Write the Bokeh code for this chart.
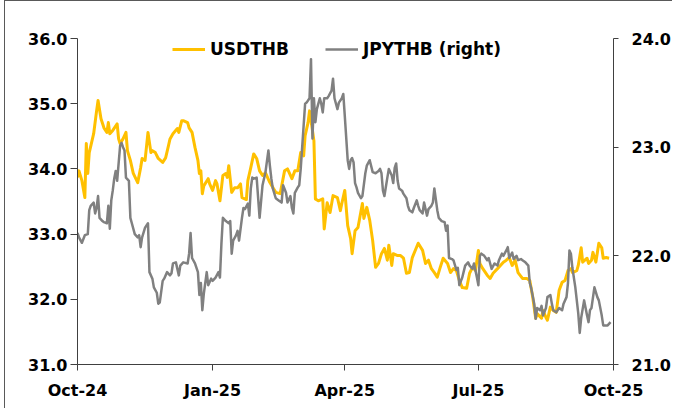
import pandas as pd
from bokeh.plotting import figure
from bokeh.models import (Range1d, LinearAxis, FixedTicker, NumeralTickFormatter,
                          DatetimeTickFormatter, Legend, LegendItem, ColumnDataSource)
from bokeh.embed import file_html
from bokeh.resources import INLINE

start_date = "2024-10-01"
end_date = "2025-10-01"
x_tick_dates = ["2024-10-01", "2025-01-01", "2025-04-01", "2025-07-01", "2025-10-01"]
left_ticks = [31.0, 32.0, 33.0, 34.0, 35.0, 36.0]
right_ticks = [21.0, 22.0, 23.0, 24.0]

# USDTHB (left axis): days since start_date, value
usd_day = [0, 1, 3, 5, 6, 7, 8, 11, 13, 14,
           16, 18, 20, 21, 22, 24, 27, 28, 29, 31,
           33, 34, 36, 38, 41, 43, 44, 46, 48, 50,
           51, 53, 55, 58, 60, 62, 63, 65, 68, 69,
           71, 72, 75, 76, 78, 80, 82, 83, 84, 85,
           86, 89, 90, 92, 94, 95, 97, 99, 101, 102,
           103, 105, 107, 109, 111, 112, 115, 116, 118, 120,
           122, 124, 126, 128, 131, 135, 138, 141, 143, 146,
           148, 150, 152, 154, 155, 157, 158, 160, 161, 162,
           164, 167, 168, 170, 172, 174, 177, 179, 180, 182,
           184, 186, 187, 189, 191, 194, 195, 197, 199, 201,
           203, 205, 207, 209, 211, 212, 214, 215, 218, 220,
           222, 224, 226, 228, 232, 235, 237, 239, 241, 243,
           245, 247, 249, 252, 254, 256, 258, 260, 262, 265,
           267, 269, 271, 273, 274, 276, 279, 281, 283, 286,
           288, 290, 292, 294, 296, 298, 300, 303, 306, 308,
           310, 312, 313, 316, 317, 319, 320, 322, 324, 326,
           328, 330, 332, 334, 336, 337, 340, 341, 343, 344,
           347, 348, 350, 351, 353, 355, 357, 358, 360, 362]
usd_val = [33.87, 33.97, 33.82, 33.56, 34.39, 33.93, 34.25, 34.54, 34.89, 35.05,
           34.77, 34.63, 34.56, 34.71, 34.54, 34.59, 34.69, 34.46, 34.39, 34.46,
           34.56, 34.28, 34.13, 33.93, 33.79, 34.02, 34.16, 34.13, 34.56, 34.25,
           34.28, 34.25, 34.16, 34.10, 34.17, 34.36, 34.46, 34.54, 34.62, 34.56,
           34.74, 34.74, 34.71, 34.63, 34.56, 34.33, 34.13, 33.93, 33.97, 33.62,
           33.74, 33.85, 33.77, 33.67, 33.82, 33.77, 33.51, 33.90, 33.93, 33.87,
           34.05, 33.64, 33.71, 33.71, 33.77, 33.56, 33.53, 33.82, 34.02, 34.23,
           34.16, 33.97, 33.90, 33.94, 33.79, 33.64, 33.62, 33.97, 34.00, 33.85,
           33.97, 33.97, 34.25, 34.20, 34.51, 34.71, 34.89, 34.59, 34.43, 33.54,
           33.51, 33.54, 33.08, 33.48, 33.33, 33.59, 33.56, 33.36, 33.47, 33.67,
           33.13, 32.93, 32.70, 33.05, 33.10, 33.47, 33.24, 33.41, 33.21, 32.90,
           32.49, 32.55, 32.70, 32.78, 32.60, 32.83, 32.52, 32.70, 32.67, 32.67,
           32.63, 32.40, 32.41, 32.64, 32.86, 32.75, 32.55, 32.60, 32.47, 32.41,
           32.34, 32.49, 32.63, 32.55, 32.41, 32.47, 32.44, 32.29, 32.18, 32.17,
           32.40, 32.49, 32.44, 32.75, 32.55, 32.47, 32.37, 32.32, 32.40, 32.47,
           32.52, 32.57, 32.60, 32.64, 32.52, 32.60, 32.41, 32.32, 32.32, 32.29,
           32.03, 31.71, 31.78, 31.71, 31.83, 31.72, 31.68, 31.88, 31.83, 31.80,
           32.14, 32.26, 32.29, 32.44, 32.47, 32.41, 32.44, 32.52, 32.79, 32.57,
           32.63, 32.55, 32.60, 32.72, 32.57, 32.86, 32.79, 32.63, 32.64, 32.63]

# JPYTHB (right axis): days since start_date, value
jpy_day = [0, 1, 3, 5, 7, 8, 9, 11, 12, 13,
           14, 15, 17, 18, 20, 21, 22, 23, 24, 25,
           26, 27, 28, 29, 30, 31, 32, 33, 35, 36,
           37, 39, 41, 42, 43, 44, 46, 48, 49, 51,
           52, 54, 55, 56, 58, 59, 61, 63, 64, 65,
           67, 69, 70, 72, 75, 76, 77, 78, 80, 82,
           83, 84, 85, 86, 88, 89, 91, 92, 94, 96,
           97, 98, 99, 101, 103, 104, 105, 106, 108, 109,
           110, 112, 113, 114, 116, 117, 118, 119, 120, 122,
           124, 126, 127, 128, 130, 131, 132, 133, 135, 137,
           139, 140, 142, 143, 145, 146, 147, 148, 150, 151,
           152, 154, 155, 156, 158, 159, 160, 161, 162, 163,
           165, 166, 167, 168, 170, 171, 173, 174, 175, 177,
           178, 180, 181, 182, 184, 185, 186, 187, 188, 189,
           190, 191, 193, 194, 196, 197, 199, 201, 203, 205,
           206, 207, 208, 209, 211, 212, 213, 214, 215, 216,
           217, 218, 219, 221, 222, 224, 225, 226, 228, 229,
           231, 232, 233, 235, 236, 237, 238, 239, 241, 242,
           243, 245, 246, 248, 250, 251, 252, 253, 255, 256,
           258, 259, 260, 262, 264, 266, 267, 269, 270, 272,
           273, 274, 275, 277, 279, 280, 282, 284, 286, 287,
           289, 290, 292, 293, 294, 296, 297, 299, 300, 302,
           303, 305, 307, 308, 309, 311, 312, 313, 315, 316,
           317, 319, 320, 322, 323, 324, 326, 328, 330, 331,
           333, 334, 335, 336, 337, 339, 341, 342, 343, 345,
           347, 348, 349, 350, 352, 354, 355, 357, 358, 360,
           361, 363]
jpy_val = [22.21, 22.17, 22.12, 22.19, 22.20, 22.42, 22.46, 22.49, 22.39, 22.44,
           22.55, 22.35, 22.32, 22.31, 22.30, 22.46, 22.25, 22.51, 22.60, 22.71,
           22.78, 22.69, 22.85, 23.01, 23.04, 23.00, 22.97, 22.72, 22.69, 22.35,
           22.30, 22.20, 22.17, 22.19, 22.08, 22.17, 22.26, 22.30, 21.85, 21.79,
           21.71, 21.66, 21.56, 21.57, 21.77, 21.79, 21.85, 21.82, 21.84, 21.93,
           21.94, 21.82, 21.91, 21.94, 21.93, 22.02, 22.21, 21.98, 21.93, 21.85,
           21.64, 21.75, 21.50, 21.65, 21.85, 21.73, 21.79, 21.77, 21.80, 21.85,
           21.80, 22.11, 22.35, 22.32, 22.30, 22.32, 22.02, 22.14, 22.19, 22.23,
           22.14, 22.35, 22.44, 22.43, 22.48, 22.37, 22.62, 22.72, 22.71, 22.72,
           22.35, 22.65, 22.71, 22.77, 22.97, 22.83, 22.71, 22.62, 22.53, 22.51,
           22.49, 22.65, 22.58, 22.49, 22.55, 22.44, 22.39, 22.58, 22.63, 22.65,
           22.80, 23.20, 23.40, 23.41, 23.45, 23.81, 23.08, 23.45, 23.23, 23.35,
           23.45, 23.40, 23.32, 23.45, 23.45, 23.47, 23.52, 23.63, 23.45, 23.35,
           23.41, 23.45, 23.49, 23.29, 22.88, 22.80, 22.88, 22.90, 22.86, 22.67,
           22.63, 22.58, 22.53, 22.55, 22.76, 22.83, 22.88, 22.77, 22.76, 22.78,
           22.80, 22.76, 22.60, 22.55, 22.72, 22.80, 22.77, 22.74, 22.67, 22.81,
           22.85, 22.69, 22.62, 22.60, 22.57, 22.53, 22.46, 22.42, 22.40, 22.44,
           22.51, 22.46, 22.42, 22.39, 22.49, 22.43, 22.37, 22.43, 22.46, 22.49,
           22.62, 22.42, 22.35, 22.32, 22.31, 22.23, 22.28, 21.98, 21.97, 21.96,
           21.87, 21.89, 21.73, 21.80, 21.91, 21.94, 21.91, 21.88, 21.93, 21.80,
           21.73, 22.00, 22.02, 22.00, 21.96, 21.98, 21.88, 21.93, 21.91, 21.96,
           22.02, 22.00, 22.05, 22.08, 21.98, 22.03, 21.97, 22.00, 21.96, 21.97,
           21.96, 21.94, 21.91, 21.75, 21.70, 21.56, 21.42, 21.52, 21.50, 21.54,
           21.45, 21.52, 21.62, 21.64, 21.56, 21.50, 21.48, 21.52, 21.50, 21.56,
           21.62, 21.75, 22.05, 22.02, 21.89, 21.71, 21.47, 21.29, 21.43, 21.59,
           21.45, 21.39, 21.50, 21.52, 21.71, 21.62, 21.59, 21.45, 21.36, 21.36,
           21.36, 21.39]

start = pd.Timestamp(start_date)
usd_src = ColumnDataSource(dict(x=[start + pd.Timedelta(days=d) for d in usd_day], y=usd_val))
jpy_src = ColumnDataSource(dict(x=[start + pd.Timedelta(days=d) for d in jpy_day], y=jpy_val))

FONT = "DejaVu Sans"

p = figure(width=668, height=408, x_axis_type="datetime",
           x_range=Range1d(pd.Timestamp(start_date), pd.Timestamp(end_date)),
           y_range=Range1d(31, 36),
           output_backend="svg", toolbar_location=None,
           min_border_left=72, min_border_right=58, min_border_top=37, min_border_bottom=45)
p.styles = {"margin-left": "4px", "border-left": "1px solid #595959", "border-top": "1px solid #595959"}
p.extra_y_ranges = {"right": Range1d(21, 24)}
p.outline_line_color = None
p.xgrid.visible = False
p.ygrid.visible = False
p.background_fill_color = "white"
p.border_fill_color = "white"

r_usd = p.line("x", "y", source=usd_src, line_color="#FFC000", line_width=3, line_join="round")
r_jpy = p.line("x", "y", source=jpy_src, line_color="#808080", line_width=2.5, line_join="round",
               y_range_name="right")

def style_axis(ax):
    ax.axis_line_color = "#404040"
    ax.axis_line_width = 1
    ax.major_tick_line_color = "#404040"
    ax.major_tick_in = 0
    ax.minor_tick_line_color = None
    ax.major_label_text_font = FONT
    ax.major_label_text_font_style = "bold"
    ax.major_label_text_font_size = "16px"
    ax.major_label_text_color = "black"

xa = p.xaxis[0]
xa.ticker = FixedTicker(ticks=[pd.Timestamp(d).value / 1e6 for d in x_tick_dates])
xa.formatter = DatetimeTickFormatter(days="%b-%y", months="%b-%y", years="%b-%y")
style_axis(xa)
xa.major_tick_out = 6
xa.major_label_standoff = 10

ya = p.yaxis[0]
ya.ticker = FixedTicker(ticks=left_ticks)
ya.formatter = NumeralTickFormatter(format="0.0")
style_axis(ya)
ya.major_tick_out = 7
ya.major_label_standoff = 3

yr = LinearAxis(y_range_name="right", ticker=FixedTicker(ticks=right_ticks),
                formatter=NumeralTickFormatter(format="0.0"))
style_axis(yr)
yr.major_tick_out = 5
yr.major_label_standoff = 13
p.add_layout(yr, "right")

legend = Legend(items=[LegendItem(label="USDTHB", renderers=[r_usd]),
                       LegendItem(label="JPYTHB (right)", renderers=[r_jpy])],
                orientation="horizontal", location=(95, 305),
                label_text_font=FONT, label_text_font_style="bold",
                label_text_font_size="17px", label_text_color="black",
                glyph_width=33, label_standoff=5, spacing=36, padding=0, margin=0,
                background_fill_alpha=0, border_line_color=None)
p.add_layout(legend)

open("out.html", "w").write(file_html(p, INLINE))
